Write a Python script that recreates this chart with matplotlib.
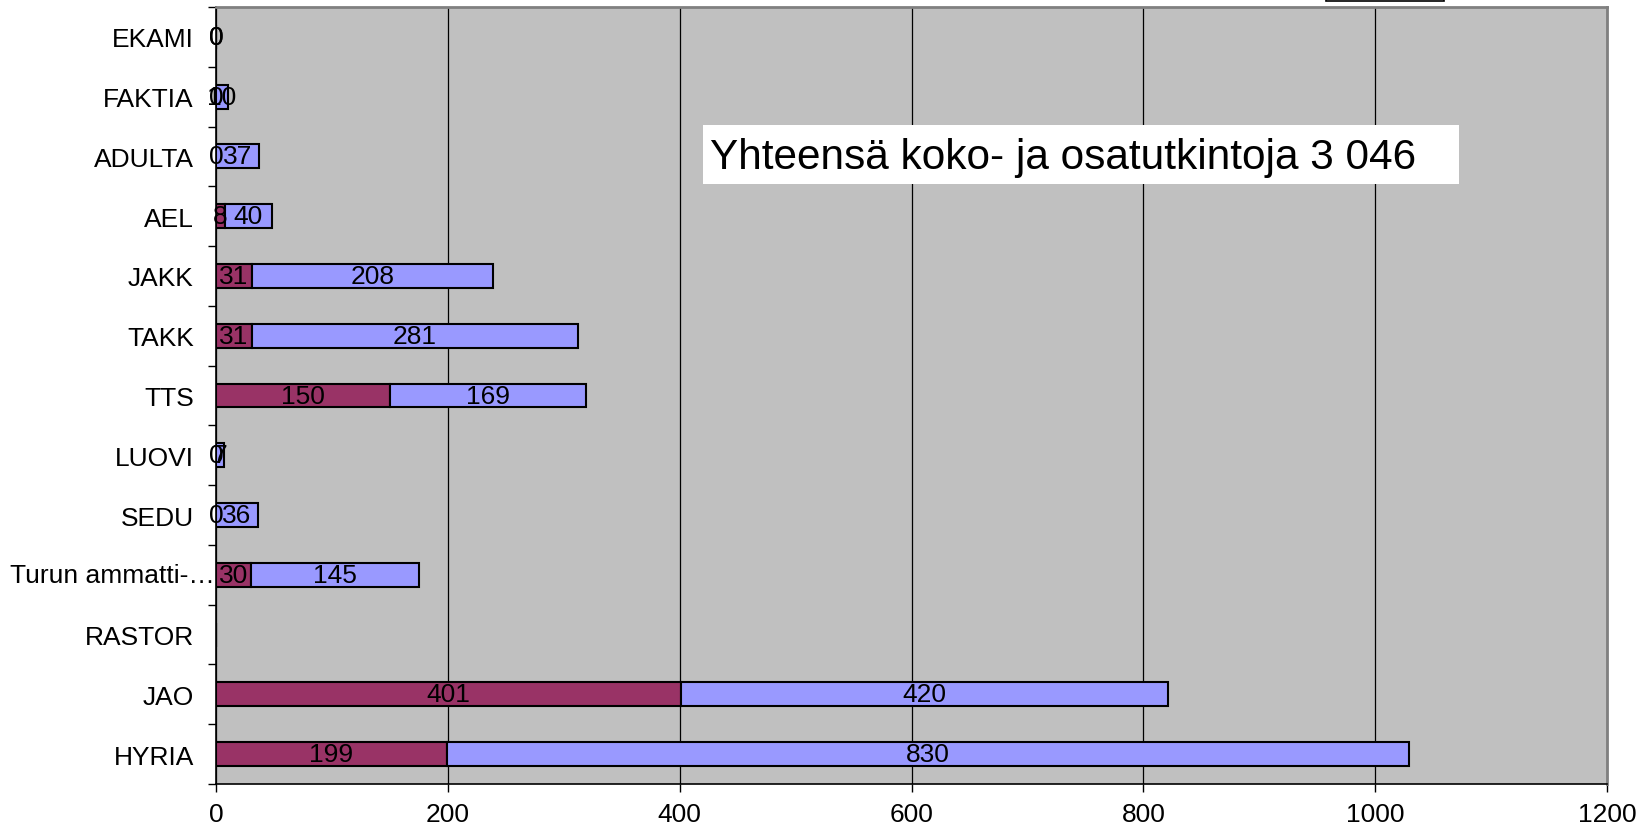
import numpy as np
import matplotlib
matplotlib.use("Agg")
import matplotlib.pyplot as plt
from matplotlib.patches import Rectangle

plt.rcParams['font.family'] = ['Liberation Sans', 'DejaVu Sans']

# data, top to bottom as in the chart
categories = ['EKAMI', 'FAKTIA', 'ADULTA', 'AEL', 'JAKK', 'TAKK', 'TTS',
              'LUOVI', 'SEDU', 'Turun ammatti-…', 'RASTOR', 'JAO', 'HYRIA']
koko = [0, 0, 0, 8, 31, 31, 150, 0, 0, 30, np.nan, 401, 199]
osa = [0, 10, 37, 40, 208, 281, 169, 7, 36, 145, np.nan, 420, 830]
x_ticks = [0, 200, 400, 600, 800, 1000, 1200]
total_text = 'Yhteensä koko- ja osatutkintoja 3 046'

W, H = 1652, 828
fig = plt.figure(figsize=(W / 100, H / 100), dpi=100)
ax = fig.add_axes([216 / W, 1 - 785 / H, (1607 - 216) / W, (785 - 8) / H])
ax.set_facecolor('#C0C0C0')

y = np.arange(len(categories))
koko_arr = np.nan_to_num(np.array(koko, dtype=float))
osa_arr = np.nan_to_num(np.array(osa, dtype=float))

b1 = ax.barh(y, koko_arr, height=0.4, color='#993366', edgecolor='black',
             linewidth=1.5, zorder=3)
b2 = ax.barh(y, osa_arr, left=koko_arr, height=0.4, color='#9999FF',
             edgecolor='black', linewidth=1.5, zorder=3)

lab1 = ['' if np.isnan(v) else f'{int(v)}' for v in koko]
lab2 = ['' if np.isnan(v) else f'{int(v)}' for v in osa]
ax.bar_label(b1, labels=lab1, label_type='center', fontsize=19, zorder=4)
ax.bar_label(b2, labels=lab2, label_type='center', fontsize=19, zorder=4)

ax.set_ylim(len(categories) - 0.5, -0.5)
ax.set_xlim(0, 1200)
ax.set_xticks(x_ticks)
ax.set_xticklabels([str(t) for t in x_ticks], fontsize=19)
ax.set_yticks(y)
# the long truncated label sits closer to the axis, drawn separately below
long_idx = categories.index('Turun ammatti-…')
ax.set_yticklabels(['' if i == long_idx else c for i, c in enumerate(categories)],
                   fontsize=19)
ax.annotate(categories[long_idx], xy=(0, long_idx),
            xycoords=('axes fraction', 'data'), xytext=(-1, 0),
            textcoords='offset points', ha='right', va='center', fontsize=19,
            annotation_clip=False)
ax.set_yticks(np.arange(len(categories) + 1) - 0.5, minor=True)
ax.tick_params(axis='y', which='major', length=0, pad=16)
ax.tick_params(axis='y', which='minor', length=6, width=1, direction='out')
ax.tick_params(axis='x', length=6, width=1, direction='out', pad=7)

ax.grid(axis='x', color='black', linewidth=0.9, zorder=1)
ax.set_axisbelow(True)
for side in ['top', 'right']:
    ax.spines[side].set_color('#808080')
    ax.spines[side].set_linewidth(2)
ax.spines['left'].set_linewidth(1.2)
ax.spines['bottom'].set_linewidth(1.2)

# total text in a white box
fig.patches.append(Rectangle((703 / W, 1 - 185 / H), 756 / W, 59 / H,
                             transform=fig.transFigure, facecolor='white',
                             edgecolor='none', zorder=5))
fig.text(710 / W, 1 - 158 / H, total_text, fontsize=30.5, ha='left',
         va='center', zorder=6)

# cut off legend box at the top edge
fig.patches.append(Rectangle((1326 / W, 1 - 2 / H), 118 / W, 4 / H,
                             transform=fig.transFigure, facecolor='white',
                             edgecolor='black', linewidth=1.2))

fig.savefig('out.png', dpi=100)
